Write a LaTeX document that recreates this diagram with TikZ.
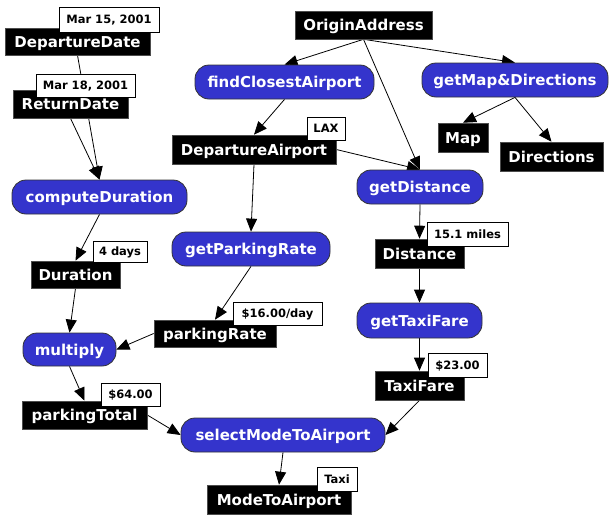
\documentclass[tikz,border=0pt]{standalone}
\usepackage{fontspec}
\setmainfont{DejaVu Sans}
\usetikzlibrary{arrows.meta,backgrounds}
\definecolor{procblue}{HTML}{3434CC}
\begin{document}
\begin{tikzpicture}[x=1pt,y=-1pt,
  namebox/.style={fill=black,draw=black!70,line width=0.6pt,text=white,
    font=\fontsize{15}{17}\selectfont\bfseries,inner sep=0pt,
    text height=11pt,text depth=0pt},
  procbox/.style={fill=procblue,draw=black!80,line width=0.8pt,text=white,
    rounded corners=14pt,font=\fontsize{15}{17}\selectfont\bfseries,inner sep=0pt,
    text height=11pt,text depth=0pt},
  valbox/.style={fill=white,draw=black,line width=0.7pt,text=black,
    font=\fontsize{11.5}{13}\selectfont\bfseries,inner sep=0pt,
    text height=8.4pt,text depth=0pt},
  flow/.style={draw=black,line width=0.8pt,-{Triangle[length=13pt,width=11pt]}},
  wh/.style 2 args={minimum width=#1pt,minimum height=#2pt}
]
\useasboundingbox (0,0) rectangle (610,517);

% data items
\node[namebox,wh={145}{27}] (depdate) at (77.5,41.5) {DepartureDate};
\node[namebox,wh={115}{28}] (retdate) at (70.5,104) {ReturnDate};
\node[namebox,wh={89}{27}] (duration) at (75.5,274.5) {Duration};
\node[namebox,wh={122}{27}] (prate) at (215,333.5) {parkingRate};
\node[namebox,wh={125}{28}] (ptotal) at (84.5,415) {parkingTotal};
\node[namebox,wh={144}{29}] (mode) at (279,499.5) {ModeToAirport};
\node[namebox,wh={137}{28}] (origin) at (363.5,25) {OriginAddress};
\node[namebox,wh={50}{29}] (map) at (463,137.5) {Map};
\node[namebox,wh={103}{29}] (dirs) at (551.5,156.5) {Directions};
\node[namebox,wh={164}{29}] (depair) at (254,149.5) {DepartureAirport};
\node[namebox,wh={89}{29}] (dist) at (419.5,253.5) {Distance};
\node[namebox,wh={89}{29}] (fare) at (419.5,385.5) {TaxiFare};

% processes
\node[procbox,wh={175}{34}] (compdur) at (99.5,197) {computeDuration};
\node[procbox,wh={158}{34}] (getpark) at (251,249) {getParkingRate};
\node[procbox,wh={93}{33}] (mult) at (69.5,349.5) {multiply};
\node[procbox,wh={204}{34}] (select) at (283,435) {selectModeToAirport};
\node[procbox,wh={179}{34}] (findair) at (284.5,82) {findClosestAirport};
\node[procbox,wh={186}{34}] (getmap) at (515,80) {getMap\&Directions};
\node[procbox,wh={126}{34}] (getdist) at (420,187) {getDistance};
\node[procbox,wh={125}{35}] (getfare) at (419.5,320.5) {getTaxiFare};

% values
\node[valbox,wh={100}{25}] (vdep) at (109,19.5) {Mar 15, 2001};
\node[valbox,wh={99}{23}] (vret) at (85.5,85.5) {Mar 18, 2001};
\node[valbox,wh={54}{21}] (vdur) at (120,251.5) {4 days};
\node[valbox,wh={89}{23}] (vrate) at (277.5,313.5) {\$16.00/day};
\node[valbox,wh={59}{23}] (vtotal) at (130.5,394.5) {\$64.00};
\node[valbox,wh={40}{24}] (vmode) at (337,479) {Taxi};
\node[valbox,wh={38}{23}] (vlax) at (326,128.5) {LAX};
\node[valbox,wh={81}{24}] (vdist) at (467.5,234) {15.1 miles};
\node[valbox,wh={59}{24}] (vfare) at (457.5,365) {\$23.00};

% connectors
\begin{scope}[on background layer]
\draw[flow] (depdate.south) -- (compdur.north);
\draw[flow] (retdate.south) -- (compdur.north);
\draw[flow] (compdur.south) -- (duration.north);
\draw[flow] (duration.south) -- (mult.north);
\draw[flow] (getpark.south) -- (prate.north);
\draw[flow] (prate.west) -- (mult.east);
\draw[flow] (mult.south) -- (ptotal.north);
\draw[flow] (ptotal.east) -- (select.west);
\draw[flow] (fare.south) -- (select.east);
\draw[flow] (select.south) -- (mode.north);
\draw[flow] (origin.south) -- (findair.north);
\draw[flow] (origin.south) -- (getdist.north);
\draw[flow] (origin.south) -- (getmap.north);
\draw[flow] (getmap.south) -- (map.north);
\draw[flow] (getmap.south) -- (dirs.north);
\draw[flow] (findair.south) -- (depair.north);
\draw[flow] (depair.south) -- (getpark.north);
\draw[flow] (depair.east) -- (getdist.north);
\draw[flow] (getdist.south) -- (dist.north);
\draw[flow] (dist.south) -- (getfare.north);
\draw[flow] (getfare.south) -- (fare.north);
\end{scope}
\end{tikzpicture}
\end{document}
